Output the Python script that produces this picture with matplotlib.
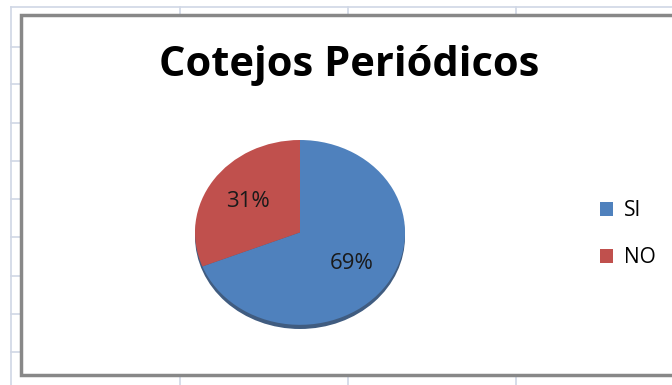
import matplotlib
matplotlib.use("Agg")
import matplotlib.pyplot as plt
from matplotlib.lines import Line2D
from matplotlib.patches import Rectangle, Ellipse

labels = ["SI", "NO"]
values = [69, 31]
colors = ["#4F81BD", "#C0504D"]
title = "Cotejos Periódicos"

W, H = 672, 385
fig = plt.figure(figsize=(W / 100, H / 100), dpi=100)
fig.patch.set_facecolor("white")

def fx(x):
    return x / W

def fy(y):
    return 1 - y / H

# spreadsheet grid behind the chart
grid_c = "#D0D7E5"
for x in [11, 180, 348, 516]:
    fig.add_artist(Line2D([fx(x), fx(x)], [0, fy(7)], color=grid_c, lw=1.2))
for y in [7, 47, 84, 123, 161, 199, 237, 276, 314, 352]:
    fig.add_artist(Line2D([fx(11), 1], [fy(y), fy(y)], color=grid_c, lw=1.2))

# chart area with border
fig.add_artist(Rectangle((fx(21), fy(375)), 1 - fx(21) + 0.01, fy(15) - fy(375),
                         facecolor="white", edgecolor="#888888", lw=2.5, zorder=2))

# pie (slightly squashed like the excel 3d view)
ax = fig.add_axes([fx(195), fy(335), fx(210), fy(140) - fy(335)], zorder=3)
ax.add_patch(Ellipse((0.0, -0.045), 2.0, 2.0, facecolor="#2B4A72", alpha=0.9, zorder=1))
wedges, texts, autotexts = ax.pie(values, colors=colors, startangle=90, counterclock=False,
                                  autopct="%d%%", pctdistance=0.6, radius=1.0,
                                  textprops=dict(fontsize=16, family="Open Sans", color="#1a1a1a"))
for w in wedges:
    w.set_zorder(2)
for t in autotexts:
    t.set_zorder(3)
ax.set_aspect("auto")
ax.set_xlim(-1.0, 1.0)
ax.set_ylim(-1.11, 1.0)
ax.axis("off")

fig.text(fx(349), fy(66), title, ha="center", va="center", fontsize=30,
         fontweight="bold", family="Open Sans", zorder=4)

# legend
handles = [Rectangle((0, 0), 1, 1, facecolor=c) for c in colors]
fig.legend(handles, labels, loc="center left", bbox_to_anchor=(fx(585), fy(234)),
           frameon=False, handlelength=0.65, handleheight=0.65, borderpad=0.2,
           labelspacing=1.25, handletextpad=0.5, prop=dict(family="Open Sans", size=15))

fig.savefig("out.png", dpi=100)
